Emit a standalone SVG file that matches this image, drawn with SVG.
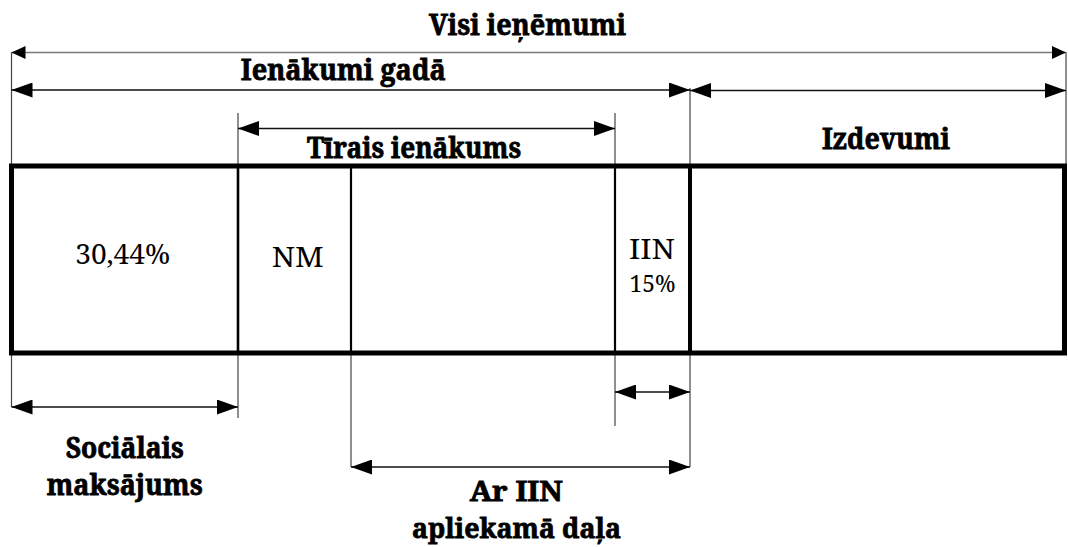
<svg xmlns="http://www.w3.org/2000/svg" width="1068" height="547" viewBox="0 0 1068 547">
<style>
text{font-family:"Noto Serif","DejaVu Serif","Liberation Serif",serif;fill:#000;text-anchor:middle}
.lbl{font-weight:bold;font-size:29.5px;stroke:#000;stroke-width:0.8px}
.lbl2{font-size:27px}
.txt{font-size:28px}
.small{font-size:23.5px}
.ext{stroke:#444;stroke-width:1.2;fill:none}
.dim{stroke:#111;stroke-width:1.3;fill:none;marker-start:url(#ah);marker-end:url(#ah)}
.dimtop{stroke:#7a7a7a;stroke-width:1.6;fill:none;marker-start:url(#ahs);marker-end:url(#ahs)}
.div{stroke:#000;fill:none}
</style>
<defs>
<marker id="ah" markerUnits="userSpaceOnUse" markerWidth="22" markerHeight="15" refX="21" refY="7.5" orient="auto-start-reverse">
<path d="M0,0 L21,7.5 L0,15 z" fill="#000"/>
</marker>
<marker id="ahs" markerUnits="userSpaceOnUse" markerWidth="15" markerHeight="13" refX="14" refY="6.5" orient="auto-start-reverse">
<path d="M0,0 L14,6.5 L0,13 z" fill="#000"/>
</marker>
</defs>
<rect width="1068" height="547" fill="#fff"/>

<g id="connectors">
<path class="ext" d="M11.5,52 V407"/>
<path class="ext" d="M238,113 V418"/>
<path class="ext" d="M615,113 V426"/>
<path class="ext" d="M690,88 V467"/>
<path class="ext" d="M1066,52 V166"/>
<path class="ext" d="M351,353 V467"/>
<path class="dimtop" d="M11.5,52.5 H1066"/>
<path class="dim" d="M11.5,90 H690"/>
<path class="dim" d="M690,90.5 H1066"/>
<path class="dim" d="M238,128.5 H615"/>
<path class="dim" d="M11.5,407 H238"/>
<path class="dim" d="M615,392 H690"/>
<path class="dim" d="M351,467 H690"/>
</g>

<g id="box">
<rect x="11.5" y="166" width="1053" height="187" fill="none" stroke="#000" stroke-width="5"/>
<path class="div" stroke-width="2.6" d="M238,166 V353"/>
<path class="div" stroke-width="2.2" d="M351,166 V353"/>
<path class="div" stroke-width="2.2" d="M615,166 V353"/>
<path class="div" stroke-width="4" d="M690,166 V353"/>
</g>

<g id="node-visi"><text class="lbl" x="527.5" y="35" textLength="197" lengthAdjust="spacingAndGlyphs">Visi ieņēmumi</text></g>
<g id="node-ienakumi"><text class="lbl" x="343.3" y="80" textLength="205" lengthAdjust="spacingAndGlyphs">Ienākumi gadā</text></g>
<g id="node-tirais"><text class="lbl" x="414" y="158" textLength="214" lengthAdjust="spacingAndGlyphs">Tīrais ienākums</text></g>
<g id="node-izdevumi"><text class="lbl" x="886" y="149" textLength="128" lengthAdjust="spacingAndGlyphs">Izdevumi</text></g>
<g id="node-social-pct"><text class="txt" x="122.7" y="264" textLength="95" lengthAdjust="spacingAndGlyphs">30,44%</text></g>
<g id="node-nm"><text class="txt" x="297.7" y="266.5" textLength="52" lengthAdjust="spacingAndGlyphs">NM</text></g>
<g id="node-iin"><text class="txt" x="652" y="258.5" textLength="46" lengthAdjust="spacingAndGlyphs">IIN</text><text class="small" x="652.5" y="291.5" textLength="46" lengthAdjust="spacingAndGlyphs">15%</text></g>
<g id="node-socialais"><text class="lbl" x="124.7" y="458" textLength="118" lengthAdjust="spacingAndGlyphs">Sociālais</text><text class="lbl" x="124.7" y="495" textLength="156" lengthAdjust="spacingAndGlyphs">maksājums</text></g>
<g id="node-ar-iin"><text class="lbl lbl2" x="516.2" y="501" textLength="93" lengthAdjust="spacingAndGlyphs">Ar IIN</text><text class="lbl lbl2" x="516.5" y="538" textLength="209" lengthAdjust="spacingAndGlyphs">apliekamā daļa</text></g>
</svg>
